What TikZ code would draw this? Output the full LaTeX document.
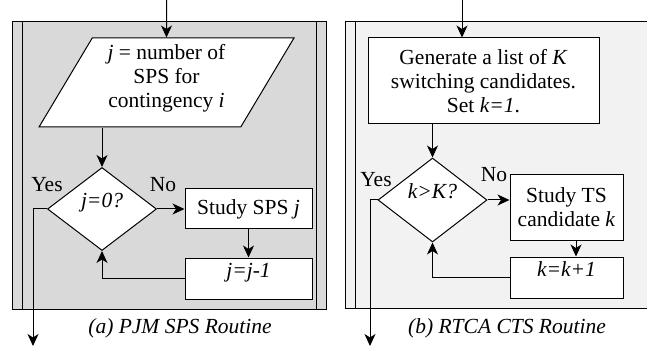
\documentclass[tikz,border=0pt]{standalone}
\usepackage{fontspec}
\setmainfont{Liberation Serif}
\usetikzlibrary{shapes.geometric,arrows.meta}

\tikzset{
  lane/.style={line width=1pt},
  flowbox/.style={draw, fill=white, line width=1pt, align=center, inner sep=0pt},
  raised/.style={text height=14pt, text depth=16pt},
  decision/.style={diamond, draw, fill=white, line width=1pt, inner sep=0pt,
    minimum width=109pt, minimum height=83pt, raised},
  iobox/.style={trapezium, trapezium left angle=61, trapezium right angle=119,
    trapezium stretches=true, draw, fill=white, line width=1pt, align=center,
    inner sep=0pt, minimum width=255pt, minimum height=89pt},
  flow/.style={line width=1pt, -{Stealth[length=12pt,width=11pt,inset=3.5pt]}}
}

\begin{document}
\begin{tikzpicture}[x=1pt, y=-1pt, font=\fontsize{21.5}{24}\selectfont]
  \useasboundingbox (0,0) rectangle (647,347);

  % left routine: lane with double side bars
  \draw[lane, fill=black!15] (12,22) rectangle (326,309);
  \foreach \x in {22,316} {
    \draw[lane] (\x,22) -- (\x,309);
  }

  \node[iobox, text depth=13pt] (spscount) at (166.5,82.5) {\textit{j} = number of\\SPS for\\contingency \textit{i}};
  \node[decision] (zeroq) at (102,209) {\textit{j=0?}};
  \node[flowbox, minimum width=127pt, minimum height=40pt] (studysps) at (248.5,209) {Study SPS \textit{j}};
  \node[flowbox, raised, minimum width=127pt, minimum height=41pt] (decr) at (248.5,278.5) {\textit{j=j-1}};
  \coordinate (inA) at (166.5,0);
  \coordinate (outA) at (33,346);

  \draw[flow] (inA) -- (spscount.north);
  \draw[flow] (zeroq.north |- spscount.south) -- (zeroq.north);
  \draw[flow] (zeroq.east) -- (studysps.west);
  \draw[flow] (studysps) -- (decr);
  \draw[flow] (decr.west) -| (zeroq.south);
  \draw[flow] (zeroq.west) -| (outA);

  \node (yesA) at (47,185) {Yes};
  \node (noA) at (163,185) {No};
  \node[font=\fontsize{21.5}{24}\selectfont\itshape] (capA) at (180,328) {(a) PJM SPS Routine};

  % right routine: lane runs off the right edge
  \fill[black!5] (345,22) rectangle (647,308);
  \draw[lane] (647,22) -- (345,22) -- (345,308) -- (647,308);
  \draw[lane] (355,22) -- (355,308);

  \node[flowbox, minimum width=231pt, minimum height=86pt] (genlist) at (483.5,81)
    {Generate a list of \textit{K}\\switching candidates.\\Set \textit{k=1}.};
  \node[decision, minimum height=84pt] (kq) at (432.5,200) {\textit{k>K?}};
  \node[flowbox, minimum width=113pt, minimum height=65pt] (studyts) at (566.5,207.5)
    {Study TS\\candidate \textit{k}};
  \node[flowbox, raised, minimum width=113pt, minimum height=41pt] (incr) at (566.5,277.5) {\textit{k=k+1}};
  \coordinate (inB) at (462,0);
  \coordinate (outB) at (370,346);

  \draw[flow] (inB) -- (inB |- genlist.north);
  \draw[flow] (kq.north |- genlist.south) -- (kq.north);
  \draw[flow] (kq.east) -- (kq.east -| studyts.west);
  \draw[flow] ([xshift=9.5pt]studyts.south) -- ([xshift=9.5pt]incr.north);
  \draw[flow] (incr.west) -| (kq.south);
  \draw[flow] (kq.west) -| (outB);

  \node (yesB) at (376,180) {Yes};
  \node (noB) at (494,175) {No};
  \node[font=\fontsize{21.5}{24}\selectfont\itshape] (capB) at (507,328) {(b) RTCA CTS Routine};
\end{tikzpicture}
\end{document}
